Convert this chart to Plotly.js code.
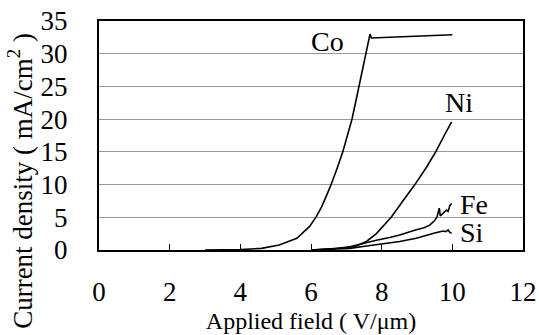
<!DOCTYPE html>
<html><head><meta charset="utf-8">
<script src="https://cdn.plot.ly/plotly-3.0.1.min.js"></script>
<style>html,body{margin:0;padding:0;background:#fff}#c{width:539px;height:335px}</style>
</head><body><div id="c"></div>
<script>
const coX = [3.0, 3.5, 4.0, 4.6, 5.1, 5.6, 5.96, 6.15, 6.3, 6.43, 6.57, 6.74, 6.9, 7.03, 7.16, 7.26, 7.36, 7.46, 7.55, 7.64, 7.67, 7.71, 8.5, 9.5, 10.0];
const coY = [0.0, 0.02, 0.06, 0.25, 0.76, 1.8, 3.6, 5.1, 6.6, 8.2, 10.0, 12.5, 15.0, 17.5, 20.0, 22.5, 25.0, 27.5, 30.0, 32.4, 33.0, 32.4, 32.6, 32.8, 32.9];
const niX = [6.0, 6.6, 7.0, 7.28, 7.57, 7.85, 8.05, 8.27, 8.6, 8.94, 9.25, 9.53, 9.77, 9.98];
const niY = [0.0, 0.15, 0.35, 0.6, 1.3, 2.5, 3.7, 5.0, 7.5, 10.0, 12.5, 15.0, 17.5, 19.6];
const feX = [6.0, 6.6, 7.1, 7.47, 7.85, 8.23, 8.51, 8.98, 9.2, 9.36, 9.5, 9.57, 9.63, 9.66, 9.69, 9.76, 9.83, 9.88, 9.93, 9.98];
const feY = [0.0, 0.15, 0.5, 1.0, 1.5, 1.9, 2.3, 3.1, 3.4, 3.8, 4.5, 5.1, 6.4, 5.2, 5.35, 5.6, 6.1, 5.9, 6.8, 7.1];
const siX = [6.0, 6.6, 7.1, 7.57, 8.04, 8.51, 8.98, 9.36, 9.5, 9.65, 9.75, 9.82, 9.88, 9.93, 9.98];
const siY = [0.0, 0.08, 0.25, 0.6, 0.9, 1.3, 1.8, 2.3, 2.6, 2.8, 2.9, 2.8, 3.06, 2.7, 2.55];
const seriesNames = ["Co", "Ni", "Fe", "Si"];
const labelX = [6.47, 10.2, 10.62, 10.57];
const labelY = [31.8, 22.6, 6.9, 2.6];
const xTicks = [0, 2, 4, 6, 8, 10, 12];
const yTicks = [0, 5, 10, 15, 20, 25, 30, 35];
const xTitle = "Applied field ( V/μm)";
const yTitle = "Current density ( mA/cm<sup>2</sup> )";

const serif = "Liberation Serif";
const line = {color: "#000", width: 1.6};
const data = [
  {x: coX, y: coY, mode: "lines", line: line, name: seriesNames[0]},
  {x: niX, y: niY, mode: "lines", line: line, name: seriesNames[1]},
  {x: feX, y: feY, mode: "lines", line: line, name: seriesNames[2]},
  {x: siX, y: siY, mode: "lines", line: line, name: seriesNames[3]}
];
const annotations = seriesNames.map((n, i) => ({
  x: labelX[i], y: labelY[i], xref: "x", yref: "y", text: n, showarrow: false,
  font: {family: serif, size: 28, color: "#000"}
}));
annotations.push({
  x: -0.185, y: 0.3, xref: "paper", yref: "paper", text: yTitle, textangle: -90,
  showarrow: false, xanchor: "center", yanchor: "middle",
  font: {family: serif, size: 27, color: "#000"}
});
const layout = {
  width: 539, height: 335,
  margin: {l: 99, r: 16, t: 21, b: 85},
  paper_bgcolor: "#fff", plot_bgcolor: "#fff",
  showlegend: false,
  font: {family: serif, color: "#000"},
  xaxis: {
    range: [0, 12], tickvals: xTicks, ticktext: xTicks.map(String),
    showgrid: false, zeroline: false,
    showline: true, linecolor: "#000", linewidth: 2, mirror: true,
    ticks: "inside", ticklen: 6, tickcolor: "#000", tickwidth: 1,
    ticklabelstandoff: 17,
    tickfont: {family: serif, size: 27, color: "#000"},
    title: {text: xTitle, font: {family: serif, size: 24, color: "#000"}, standoff: 6}
  },
  yaxis: {
    range: [0, 35], tickvals: yTicks, ticktext: yTicks.map(String),
    showgrid: true, gridcolor: "#999", gridwidth: 1, zeroline: false,
    showline: true, linecolor: "#000", linewidth: 2, mirror: true,
    ticks: "", ticklabelstandoff: 24,
    tickfont: {family: serif, size: 27, color: "#000"}
  },
  annotations: annotations
};
Plotly.newPlot("c", data, layout, {displayModeBar: false, staticPlot: true});
</script></body></html>
